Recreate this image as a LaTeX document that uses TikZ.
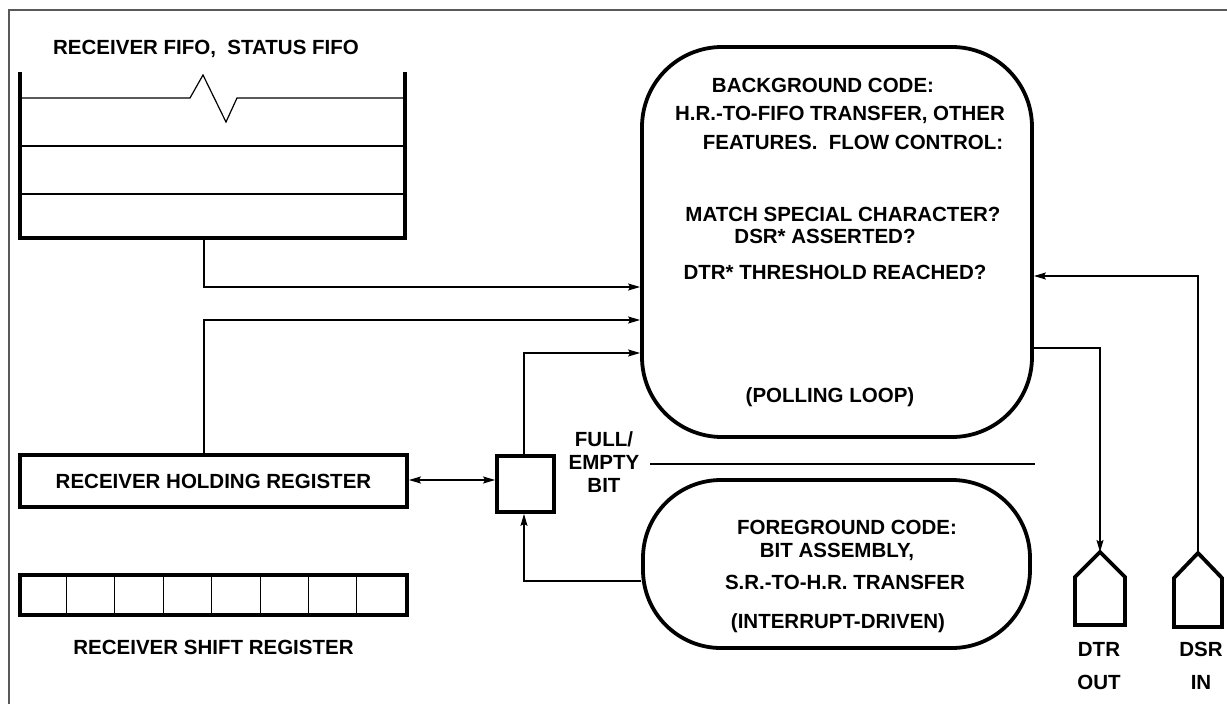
\documentclass[tikz,border=0pt]{standalone}
\usepackage{fontspec}
\setmainfont{Liberation Sans}
\usetikzlibrary{arrows.meta,positioning}
\tikzstyle{block} = [rectangle,draw=black,line width=3.8pt,inner sep=0pt]
\tikzstyle{loopbox} = [block,rounded corners=80pt]
\tikzstyle{port} = [draw=black,line width=3.8pt,line join=miter]
\tikzstyle{wire} = [color=black,line width=1.2pt]
\tikzstyle{arrow} = [wire,-{Stealth[length=12pt,width=7pt,inset=2pt]}]
\tikzstyle{lbl} = [inner sep=0pt,text height=14.7pt,text depth=0pt,font=\fontsize{20.5}{23}\selectfont\bfseries]
\tikzstyle{frame} = [draw=black!65,line width=2pt]

\begin{document}
\begin{tikzpicture}[x=1pt,y=-1pt]
	\useasboundingbox (0,0) rectangle (1227,704);
	\draw [frame] (9,704) -- (9,10) -- (1227,10);

	%FIFO
	\node (fifotitle) [lbl] at (206,47) {RECEIVER FIFO,\ \ STATUS FIFO};
	\draw [line width=3.8pt] (20,72) -- (20,238) -- (405,238) -- (405,72);
	\draw [wire] (22,98) -- (190,98) -- (203,75) -- (226,122) -- (237,98) -- (403,98);
	\foreach \y in {146,194}
		\draw [wire] (22,\y) -- (403,\y);
	\coordinate (fifo) at (204,238);

	%registers
	\node (hr) [block,lbl,minimum width=387pt,minimum height=52pt] at (213.5,481) {RECEIVER HOLDING REGISTER};
	\node (sr) [block,minimum width=387pt,minimum height=40pt] at (213.5,595) {};
	\foreach \i in {1,...,7}
		\draw [line width=1pt] ([xshift={\i*48.4pt}]sr.north west) -- ([xshift={\i*48.4pt}]sr.south west);
	\node (srtext) [lbl,below=23pt of sr] {RECEIVER SHIFT REGISTER};

	%full/empty bit
	\node (fe) [block,minimum width=57pt,minimum height=56pt] at (525.5,484) {};
	\node (fe1) [lbl] at (604,439) {FULL/};
	\node (fe2) [lbl,below=8.5pt of fe1] {EMPTY};
	\node (fe3) [lbl,below=7.5pt of fe2] {BIT};

	%background code
	\node (bg) [loopbox,minimum width=390pt,minimum height=390pt] at (837,242) {};
	\node (bgt1) [lbl] at (823,85) {BACKGROUND CODE:};
	\node (bgt2) [lbl] at (840,113) {H.R.-TO-FIFO TRANSFER, OTHER};
	\node (bgt3) [lbl] at (853,142) {FEATURES.\ \ FLOW CONTROL:};
	\node (bgt4) [lbl] at (843,214) {MATCH SPECIAL CHARACTER?};
	\node (bgt5) [lbl] at (825,236) {DSR* ASSERTED?};
	\node (bgt6) [lbl] at (835,272) {DTR* THRESHOLD REACHED?};
	\node (bgt7) [lbl] at (830,395) {(POLLING LOOP)};

	%foreground code
	\node (fg) [block,rounded corners=78pt,minimum width=387pt,minimum height=168pt] at (836.5,564) {};
	\node (fgt1) [lbl] at (847,527) {FOREGROUND CODE:};
	\node (fgt2) [lbl] at (837,550) {BIT ASSEMBLY,};
	\node (fgt3) [lbl] at (845,582) {S.R.-TO-H.R. TRANSFER};
	\node (fgt4) [lbl] at (838,621) {(INTERRUPT-DRIVEN)};
	\coordinate (sepa) at (650,464);
	\coordinate (sepb) at (1035,464);
	\draw [wire] (sepa) -- (sepb);

	%modem lines
	\coordinate (dtr) at (1100,552);
	\draw [port] (dtr) -- ++(25,25) -- ++(0,48) -- ++(-50,0) -- ++(0,-48) -- cycle;
	\node (dtrt1) [lbl] at (1099,649) {DTR};
	\node (dtrt2) [lbl,below=18.5pt of dtrt1] {OUT};
	\coordinate (dsr) at (1198,553);
	\draw [port] (dsr) -- ++(24,25) -- ++(0,49) -- ++(-48,0) -- ++(0,-49) -- cycle;
	\node (dsrt1) [lbl] at (1201,649) {DSR};
	\node (dsrt2) [lbl,below=18.5pt of dsrt1] {IN};

	%connections
	\draw [arrow] (fifo) |- ([yshift=-45pt]bg.west);
	\draw [arrow] ([xshift=-9.5pt]hr.north) |- ([yshift=-78pt]bg.west);
	\draw [arrow] ([xshift=-1.5pt]fe.north) |- ([yshift=-111pt]bg.west);
	\draw [arrow,{Stealth[length=12pt,width=7pt,inset=2pt]}-{Stealth[length=12pt,width=7pt,inset=2pt]}] ([yshift=1pt]hr.east) -- ([yshift=1pt]hr.east -| fe.west);
	\draw [arrow] ([yshift=-17pt]fg.west) -| ([xshift=-1.5pt]fe.south);
	\draw [arrow] (dsr) |- ([yshift=-34pt]bg.east);
	\draw [arrow] ([yshift=-106pt]bg.east) -| (dtr);
\end{tikzpicture}
\end{document}
